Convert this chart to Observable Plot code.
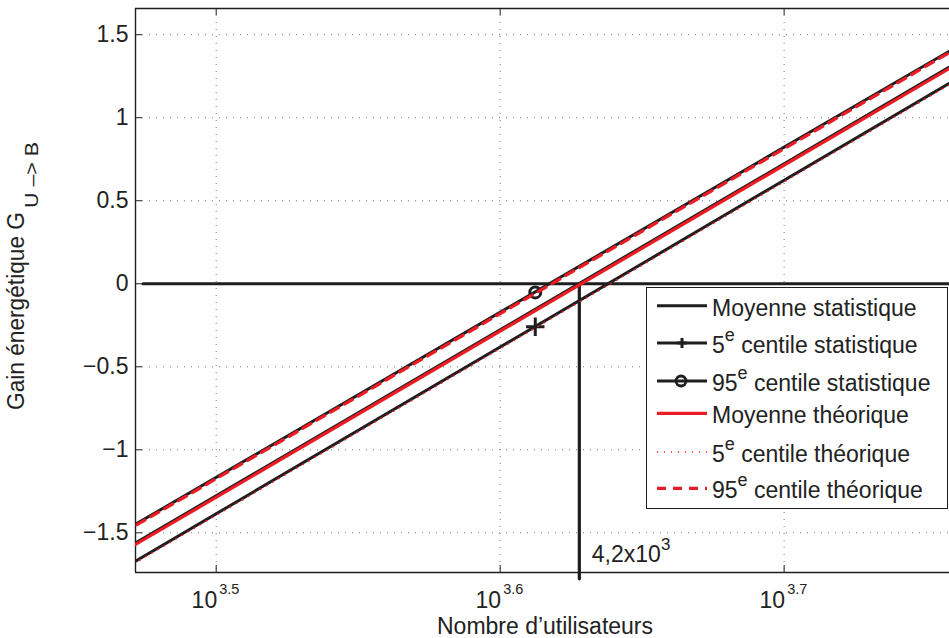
<!DOCTYPE html>
<html><head><meta charset="utf-8">
<script src="https://cdn.jsdelivr.net/npm/d3@7"></script>
<script src="https://cdn.jsdelivr.net/npm/@observablehq/plot@0.6"></script>
<style>body{margin:0;background:#fff;} #chart{width:949px;height:638px;}</style>
</head><body><div id="chart"></div>
<script>
// ---- data ----
const nEnds = [2900, 5900];            // number of users at the two ends of each straight line
const moyStat = [-1.653, 1.432];       // Moyenne statistique
const c5Stat = [-1.763, 1.335];        // 5e centile statistique
const c95Stat = [-1.540, 1.527];       // 95e centile statistique
const moyTheo = [-1.662, 1.423];       // Moyenne théorique
const c5Theo = [-1.772, 1.326];        // 5e centile théorique
const c95Theo = [-1.548, 1.518];       // 95e centile théorique
const markerN = [4096];
const marker5 = [-0.259];
const marker95 = [-0.052];
const zeroLineN = [2980, 5900];
const zeroLineG = [0, 0];
const seuilN = [4245, 4245];
const seuilG = [0, -1.777];
const xTickExp = [3.5, 3.6, 3.7];
const yTicks = [-1.5, -1, -0.5, 0, 0.5, 1, 1.5];
const xDomain = [2962, 5731];
const yDomain = [-1.739, 1.658];
const legendPre = ["Moyenne statistique", "5", "95", "Moyenne théorique", "5", "95"];
const legendSup = ["", "e", "e", "", "e", "e"];
const legendPost = ["", " centile statistique", " centile statistique", "", " centile théorique", " centile théorique"];

// ---- build ----
const F = "'Liberation Sans', Arial, Helvetica, sans-serif";
const INK = "#1e1e1e";
const RED = "#ec1c24";
const rows = (ns, gs) => ns.map((n, i) => ({n, g: gs[i]}));
const xTicks = xTickExp.map(e => 10 ** e);
const fmt = d => (d < 0 ? "\u2212" : "") + Math.abs(d);
const blackLine = {x: "n", y: "g", stroke: INK, strokeWidth: 3, clip: true};

const plot = Plot.plot({
  width: 949, height: 638,
  marginLeft: 135, marginTop: 8, marginBottom: 66, marginRight: 0,
  x: {type: "log", domain: xDomain, axis: null},
  y: {domain: yDomain, axis: null},
  style: {fontFamily: F, background: "white", overflow: "visible", color: "#222"},
  marks: [
    Plot.ruleX(xTicks, {stroke: "#777", strokeDasharray: "1,6"}),
    Plot.ruleY(yTicks, {stroke: "#777", strokeDasharray: "1,6"}),
    Plot.ruleX([xDomain[0]], {stroke: INK, strokeWidth: 1.4}),
    Plot.ruleY([yDomain[0]], {stroke: INK, strokeWidth: 1.4}),
    Plot.ruleY([yDomain[1]], {stroke: INK, strokeWidth: 1.4}),
    Plot.ruleY(yTicks, {x1: xDomain[0], x2: xDomain[0], insetRight: -7, stroke: INK}),
    Plot.ruleX(xTicks, {y1: yDomain[0], y2: yDomain[0], insetBottom: 7, stroke: INK}),
    Plot.ruleX(xTicks, {y1: yDomain[1], y2: yDomain[1], insetTop: 7, stroke: INK}),
    // horizontal zero line and threshold
    Plot.line(rows(zeroLineN, zeroLineG), {...blackLine, strokeWidth: 3}),
    Plot.line(rows(seuilN, seuilG), {x: "n", y: "g", stroke: INK, strokeWidth: 3.2, clip: false}),
    // statistical curves
    Plot.line(rows(nEnds, moyStat), blackLine),
    Plot.line(rows(nEnds, c5Stat), blackLine),
    Plot.line(rows(nEnds, c95Stat), blackLine),
    Plot.dot(rows(markerN, marker5), {x: "n", y: "g", symbol: "plus", r: 6, stroke: INK, strokeWidth: 3}),
    Plot.dot(rows(markerN, marker95), {x: "n", y: "g", symbol: "circle", r: 5.5, stroke: INK, strokeWidth: 3, fill: "none"}),
    // theoretical curves
    Plot.line(rows(nEnds, moyTheo), {x: "n", y: "g", stroke: RED, strokeWidth: 3.2, clip: true}),
    Plot.line(rows(nEnds, c5Theo), {x: "n", y: "g", stroke: RED, strokeWidth: 1.5, strokeDasharray: "1,6", clip: true}),
    Plot.line(rows(nEnds, c95Theo), {x: "n", y: "g", stroke: RED, strokeWidth: 3.2, strokeDasharray: "9,7", clip: true}),
    // tick labels
    Plot.text(yTicks, {x: xDomain[0], y: d => d, text: fmt, textAnchor: "end", dx: -7, fontSize: 23, fill: "#222"}),
    Plot.text(xTicks, {x: d => d, y: yDomain[0], text: () => "10", textAnchor: "end", lineAnchor: "bottom", dx: 1, dy: 35, fontSize: 23, fill: "#222"}),
    Plot.text(xTickExp, {x: d => 10 ** d, y: yDomain[0], text: d => d.toFixed(1), textAnchor: "start", lineAnchor: "bottom", dx: 3, dy: 21.5, fontSize: 14.5, fill: "#222"})
  ]
});

const svg = d3.select(plot);
const xs = plot.scale("x"), ys = plot.scale("y");

// x axis title
svg.append("text").attr("x", 545).attr("y", 634).attr("text-anchor", "middle")
  .attr("font-size", 23).attr("fill", "#222").text("Nombre d\u2019utilisateurs");

// y axis title
const yt = svg.append("text").attr("transform", "translate(23.5,410) rotate(-90)")
  .attr("text-anchor", "start").attr("font-size", 23).attr("fill", "#222");
yt.append("tspan").attr("textLength", 198).attr("lengthAdjust", "spacingAndGlyphs").text("Gain énergétique G");
yt.append("tspan").attr("dx", 4).attr("dy", 14).attr("font-size", 19)
  .attr("textLength", 66).attr("lengthAdjust", "spacingAndGlyphs").text("U \u2013> B");

// threshold annotation
const ann = svg.append("text").attr("x", xs.apply(seuilN[0]) + 13).attr("y", ys.apply(yDomain[0]) - 10)
  .attr("text-anchor", "start").attr("font-size", 23).attr("fill", "#222");
ann.append("tspan").text("4,2x10");
ann.append("tspan").attr("dy", -12).attr("font-size", 17).text("3");

// legend
const lg = svg.append("g").attr("text-anchor", "start");
lg.append("rect").attr("x", 646.5).attr("y", 287.5).attr("width", 301).attr("height", 221)
  .attr("fill", "white").attr("stroke", INK).attr("stroke-width", 1);
const rowY = [305.7, 343, 381, 413.3, 452, 488.3];
const styles = [
  {stroke: INK, w: 3},
  {stroke: INK, w: 3, marker: "plus"},
  {stroke: INK, w: 3, marker: "circle"},
  {stroke: RED, w: 3.2},
  {stroke: RED, w: 1.5, dash: "1,6"},
  {stroke: RED, w: 3.2, dash: "9,7"}
];
rowY.forEach((y, i) => {
  const s = styles[i];
  const l = lg.append("line").attr("x1", 657).attr("x2", 707).attr("y1", y).attr("y2", y)
    .attr("stroke", s.stroke).attr("stroke-width", s.w);
  if (s.dash) l.attr("stroke-dasharray", s.dash);
  if (s.marker === "plus") {
    lg.append("path").attr("d", `M677,${y}h10M682,${y - 5}v10`).attr("stroke", INK).attr("stroke-width", 3);
  }
  if (s.marker === "circle") {
    lg.append("circle").attr("cx", 681).attr("cy", y).attr("r", 5).attr("fill", "none")
      .attr("stroke", INK).attr("stroke-width", 2.8);
  }
  const t = lg.append("text").attr("x", 712).attr("y", y + 10).attr("font-size", 23).attr("fill", "#222");
  t.append("tspan").text(legendPre[i]);
  if (legendSup[i]) {
    t.append("tspan").attr("dy", -12).attr("font-size", 18).text(legendSup[i]);
    t.append("tspan").attr("dy", 12).text(legendPost[i]);
  }
});

document.getElementById("chart").appendChild(plot);
</script>
</body></html>
